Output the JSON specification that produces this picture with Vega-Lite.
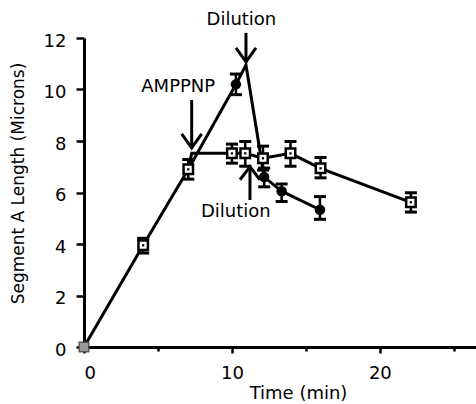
{
  "$schema": "https://vega.github.io/schema/vega-lite/v6.json",
  "width": 392,
  "height": 309,
  "autosize": {"type": "none"},
  "padding": {"left": 84, "top": 38, "right": 0, "bottom": 57},
  "background": "white",
  "config": {
    "view": {"stroke": null},
    "font": "DejaVu Sans",
    "axis": {
      "grid": false,
      "domainColor": "black",
      "domainWidth": 3,
      "tickColor": "black",
      "tickWidth": 2.5,
      "labelColor": "black",
      "labelFont": "DejaVu Sans",
      "labelFontSize": 18,
      "titleColor": "black",
      "titleFont": "DejaVu Sans",
      "titleFontSize": 17,
      "titleFontWeight": "normal"
    }
  },
  "datasets": {
    "lines": [
      {"s": "A", "o": 1, "x": 0, "y": 0},
      {"s": "A", "o": 2, "x": 4, "y": 3.95},
      {"s": "A", "o": 3, "x": 7.05, "y": 6.9},
      {"s": "A", "o": 4, "x": 10.27, "y": 10.2},
      {"s": "A", "o": 5, "x": 10.95, "y": 10.95},
      {"s": "A", "o": 6, "x": 12.18, "y": 6.6},
      {"s": "A", "o": 7, "x": 13.36, "y": 6.05},
      {"s": "A", "o": 8, "x": 15.95, "y": 5.33},
      {"s": "B", "o": 1, "x": 7.05, "y": 6.9},
      {"s": "B", "o": 2, "x": 7.28, "y": 7.52},
      {"s": "B", "o": 3, "x": 10, "y": 7.52},
      {"s": "B", "o": 4, "x": 10.9, "y": 7.52},
      {"s": "B", "o": 5, "x": 12.1, "y": 7.33},
      {"s": "B", "o": 6, "x": 13.96, "y": 7.52},
      {"s": "B", "o": 7, "x": 15.99, "y": 6.94},
      {"s": "B", "o": 8, "x": 22.1, "y": 5.62}
    ],
    "points": [
      {"kind": "square", "x": 4, "y": 3.95, "lo": 3.65, "hi": 4.22},
      {"kind": "square", "x": 7.05, "y": 6.9, "lo": 6.52, "hi": 7.28},
      {"kind": "square", "x": 10, "y": 7.52, "lo": 7.14, "hi": 7.88},
      {"kind": "square", "x": 10.9, "y": 7.52, "lo": 7.02, "hi": 7.98},
      {"kind": "square", "x": 12.1, "y": 7.33, "lo": 6.87, "hi": 7.8},
      {"kind": "square", "x": 13.96, "y": 7.52, "lo": 7.02, "hi": 7.98},
      {"kind": "square", "x": 15.99, "y": 6.94, "lo": 6.57, "hi": 7.36},
      {"kind": "square", "x": 22.1, "y": 5.62, "lo": 5.24, "hi": 5.99},
      {"kind": "circle", "x": 10.27, "y": 10.2, "lo": 9.8, "hi": 10.6},
      {"kind": "circle", "x": 12.18, "y": 6.6, "lo": 6.22, "hi": 6.95},
      {"kind": "circle", "x": 13.36, "y": 6.05, "lo": 5.65, "hi": 6.33},
      {"kind": "circle", "x": 15.95, "y": 5.33, "lo": 4.96, "hi": 5.84}
    ],
    "start": [{"x": 0, "y": 0}],
    "arrows": [
      {"dir": "down", "x": 10.95, "y1": 12.2, "y2": 11.07},
      {"dir": "down", "x": 7.28, "y1": 9.59, "y2": 7.73},
      {"dir": "up", "x": 11.22, "y1": 5.71, "y2": 7.0}
    ],
    "labels": [
      {"t": "Dilution", "x": 10.64, "y": 12.5},
      {"t": "AMPPNP", "x": 6.37, "y": 9.91},
      {"t": "Dilution", "x": 10.26, "y": 5.04}
    ]
  },
  "layer": [
    {
      "data": {"name": "lines"},
      "mark": {"type": "line", "color": "black", "strokeWidth": 3},
      "encoding": {
        "x": {
          "field": "x", "type": "quantitative",
          "scale": {"domain": [0, 26.5], "nice": false, "zero": false},
          "axis": {
            "title": "Time (min)",
            "titleFontSize": 18,
            "values": [0, 5, 10, 15, 20, 25],
            "labelExpr": "datum.value % 10 === 0 ? datum.label : ''",
            "tickSize": {"condition": {"test": "datum.value % 10 === 0", "value": 6}, "value": 4},
            "labelPadding": 11,
            "titlePadding": 2,
            "titleX": 214
          }
        },
        "y": {
          "field": "y", "type": "quantitative",
          "scale": {"domain": [0, 12], "nice": false},
          "axis": {
            "title": "Segment A Length (Microns)",
            "values": [0, 1, 2, 3, 4, 5, 6, 7, 8, 9, 10, 11, 12],
            "labelExpr": "datum.value % 2 === 0 ? datum.label : ''",
            "tickSize": {"condition": {"test": "datum.value % 2 === 0", "value": 8}, "value": 4},
            "labelPadding": 10,
            "labelOffset": 3,
            "titlePadding": 16,
            "titleY": 145
          }
        },
        "detail": {"field": "s"},
        "order": {"field": "o", "type": "quantitative"}
      }
    },
    {
      "data": {"name": "points"},
      "mark": {"type": "rule", "color": "black", "strokeWidth": 2.5},
      "encoding": {
        "x": {"field": "x", "type": "quantitative"},
        "y": {"field": "lo", "type": "quantitative"},
        "y2": {"field": "hi"}
      }
    },
    {
      "data": {"name": "points"},
      "mark": {"type": "tick", "orient": "horizontal", "color": "black", "size": 12, "thickness": 3, "opacity": 1},
      "encoding": {
        "x": {"field": "x", "type": "quantitative"},
        "y": {"field": "lo", "type": "quantitative"}
      }
    },
    {
      "data": {"name": "points"},
      "mark": {"type": "tick", "orient": "horizontal", "color": "black", "size": 12, "thickness": 3, "opacity": 1},
      "encoding": {
        "x": {"field": "x", "type": "quantitative"},
        "y": {"field": "hi", "type": "quantitative"}
      }
    },
    {
      "data": {"name": "points"},
      "transform": [{"filter": "datum.kind === 'square'"}],
      "mark": {"type": "point", "shape": "square", "filled": true, "fill": "white", "stroke": "black", "strokeWidth": 2.5, "size": 90, "opacity": 1},
      "encoding": {
        "x": {"field": "x", "type": "quantitative"},
        "y": {"field": "y", "type": "quantitative"}
      }
    },
    {
      "data": {"name": "points"},
      "transform": [{"filter": "datum.kind === 'square'"}],
      "mark": {"type": "point", "shape": "square", "filled": true, "color": "black", "size": 5, "opacity": 1},
      "encoding": {
        "x": {"field": "x", "type": "quantitative"},
        "y": {"field": "y", "type": "quantitative"}
      }
    },
    {
      "data": {"name": "points"},
      "transform": [{"filter": "datum.kind === 'circle'"}],
      "mark": {"type": "point", "shape": "circle", "filled": true, "color": "black", "size": 110, "opacity": 1},
      "encoding": {
        "x": {"field": "x", "type": "quantitative"},
        "y": {"field": "y", "type": "quantitative"}
      }
    },
    {
      "data": {"name": "start"},
      "mark": {"type": "point", "shape": "square", "filled": true, "fill": "#999999", "stroke": "#555555", "strokeWidth": 1.5, "size": 90, "opacity": 1},
      "encoding": {
        "x": {"field": "x", "type": "quantitative"},
        "y": {"field": "y", "type": "quantitative"}
      }
    },
    {
      "data": {"name": "arrows"},
      "mark": {"type": "rule", "color": "black", "strokeWidth": 3},
      "encoding": {
        "x": {"field": "x", "type": "quantitative"},
        "y": {"field": "y1", "type": "quantitative"},
        "y2": {"field": "y2"}
      }
    },
    {
      "data": {"name": "arrows"},
      "mark": {"type": "point", "filled": false, "stroke": "black", "strokeWidth": 3, "size": 400, "opacity": 1, "strokeJoin": "miter"},
      "encoding": {
        "x": {"field": "x", "type": "quantitative"},
        "y": {"field": "y2", "type": "quantitative"},
        "shape": {
          "field": "dir", "type": "nominal",
          "scale": {"domain": ["down", "up"], "range": ["M-1,-1.4L0,0L1,-1.4", "M-1,1.3L0,0L1,1.3"]},
          "legend": null
        }
      }
    },
    {
      "data": {"name": "labels"},
      "mark": {"type": "text", "color": "black", "fontSize": 18, "font": "DejaVu Sans", "align": "center", "baseline": "alphabetic"},
      "encoding": {
        "x": {"field": "x", "type": "quantitative"},
        "y": {"field": "y", "type": "quantitative"},
        "text": {"field": "t"}
      }
    }
  ]
}
